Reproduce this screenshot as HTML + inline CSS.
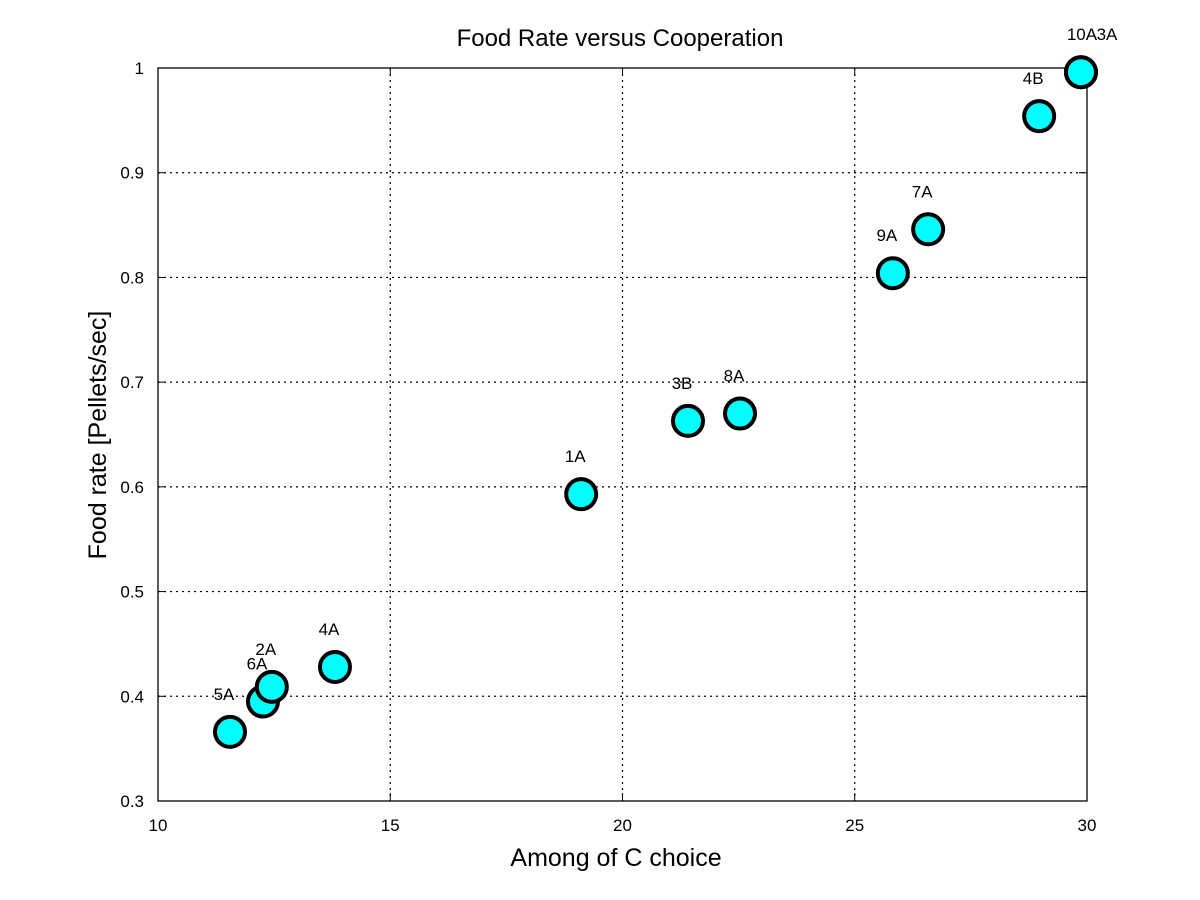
<!DOCTYPE html>
<html><head><meta charset="utf-8"><style>
body{margin:0;background:#fff;}
svg{display:block;font-family:"Liberation Sans",sans-serif;}
</style></head><body>
<svg id="chart" width="1200" height="900">
<rect width="1200" height="900" fill="#fff"/>
<g id="grid"></g><g id="axes"></g><g id="marks"></g>
<text x="620" y="46" font-size="24" text-anchor="middle">Food Rate versus Cooperation</text>
<text x="616" y="866" font-size="25" text-anchor="middle">Among of C choice</text>
<text transform="translate(106,435) rotate(-90)" font-size="25" text-anchor="middle">Food rate [Pellets/sec]</text>
</svg>
<script>
const labels=["5A","6A","2A","4A","1A","3B","8A","9A","7A","4B","10A","3A"];
const xs=[11.55,12.26,12.45,13.81,19.11,21.41,22.53,25.82,26.58,28.97,29.87,29.87];
const ys=[0.366,0.395,0.409,0.428,0.593,0.663,0.670,0.804,0.846,0.954,0.996,0.996];
const xTicks=[10,15,20,25,30];
const yTicks=[0.3,0.4,0.5,0.6,0.7,0.8,0.9,1];
const L=158,R=1087,T=68,B=801;
const sx=v=>L+(v-10)/20*(R-L);
const sy=v=>B-(v-0.3)/0.7*(B-T);
const NS="http://www.w3.org/2000/svg";
function mk(t,a,p){const e=document.createElementNS(NS,t);for(const k in a)e.setAttribute(k,a[k]);p.appendChild(e);return e;}
const grid=document.getElementById('grid'),axes=document.getElementById('axes'),marks=document.getElementById('marks');
xTicks.forEach(v=>{
 const x=sx(v);
 if(v>10&&v<30){const g=mk('line',{x1:x,x2:x,y1:T,y2:B,stroke:'#000','stroke-width':1.2,'stroke-dasharray':'2,4'},grid);
 }
 mk('line',{x1:x,x2:x,y1:B,y2:B-8,stroke:'#000'},axes);
 mk('line',{x1:x,x2:x,y1:T,y2:T+8,stroke:'#000'},axes);
 const t=mk('text',{x:x,y:B+30,'font-size':17,'text-anchor':'middle'},axes);t.textContent=v;
 
});
yTicks.forEach(v=>{
 const y=sy(v);
 if(v>0.3&&v<1){const g=mk('line',{x1:L,x2:R,y1:y,y2:y,stroke:'#000','stroke-width':1.2,'stroke-dasharray':'2,4'},grid);
 }
 mk('line',{x1:L,x2:L+8,y1:y,y2:y,stroke:'#000'},axes);
 mk('line',{x1:R,x2:R-8,y1:y,y2:y,stroke:'#000'},axes);
 const t=mk('text',{x:L-14,y:y+6,'font-size':17,'text-anchor':'end'},axes);t.textContent=v;
 
});
const f=mk('rect',{x:L,y:T,width:R-L,height:B-T,fill:'none',stroke:'#000','stroke-width':1.3},axes);

labels.forEach((lb,i)=>{
 const cx=sx(xs[i]),cy=sy(ys[i]);
 const c=mk('circle',{cx:cx,cy:cy,r:15,fill:'#00ffff',stroke:'#000','stroke-width':4},marks);
 
 const dx=lb==="3A"?26:(lb==="10A"?1:-6);
 const t=mk('text',{x:cx+dx,y:cy-32,'font-size':17,'text-anchor':'middle'},marks);t.textContent=lb;
 
});
</script>
</body></html>
